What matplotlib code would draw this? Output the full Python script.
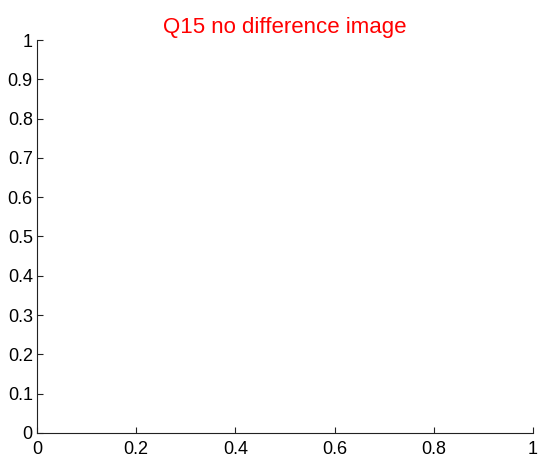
import matplotlib
matplotlib.use("Agg")
from matplotlib import pyplot as plt

plt.rcParams['font.family'] = ['Liberation Sans', 'DejaVu Sans']

title = 'Q15 no difference image'
xticks = [0, 0.2, 0.4, 0.6, 0.8, 1]
yticks = [0, 0.1, 0.2, 0.3, 0.4, 0.5, 0.6, 0.7, 0.8, 0.9, 1]

fig = plt.figure(figsize=(5.38, 4.62), dpi=100)
ax = fig.add_axes([0.0688, 0.0628, 0.9220, 0.8506])
ax.set_xlim(0, 1)
ax.set_ylim(0, 1)
ax.set_xticks(xticks)
ax.set_xticklabels(['%g' % v for v in xticks])
ax.set_yticks(yticks)
ax.set_yticklabels(['%g' % v for v in yticks])
ax.spines['top'].set_visible(False)
ax.spines['right'].set_visible(False)
for s in ('left', 'bottom'):
    ax.spines[s].set_linewidth(0.8)
    ax.spines[s].set_color('#222222')
ax.tick_params(direction='in', length=4, width=0.8, labelsize=13, colors='#222222', labelcolor='black')
ax.tick_params(axis='x', pad=6)
ax.tick_params(axis='y', pad=3)
ax.set_title(title, color='red', fontsize=16, pad=5)

fig.savefig('out.png', dpi=100)
